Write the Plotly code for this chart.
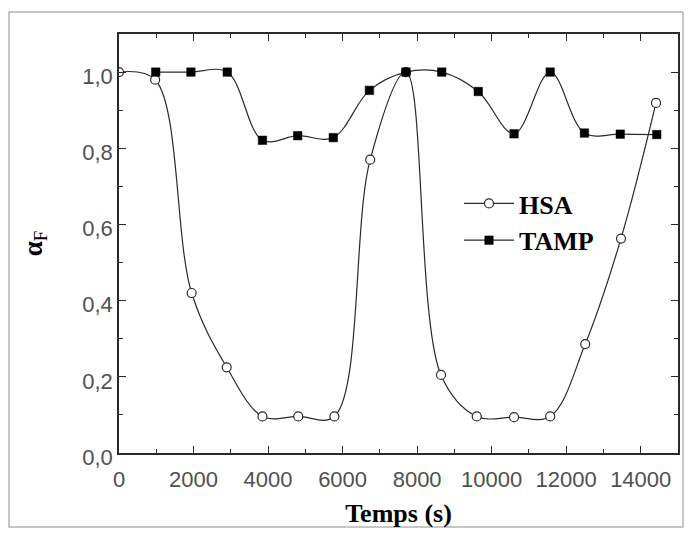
import plotly.graph_objects as go

# ---- data ----
hsa_t = [0, 970, 1950, 2890, 3850, 4810, 5780, 6740, 7700, 8640, 9600, 10600, 11570, 12510, 13470, 14410]
hsa_v = [1.0, 0.98, 0.42, 0.225, 0.096, 0.096, 0.096, 0.77, 1.0, 0.205, 0.096, 0.094, 0.096, 0.286, 0.563, 0.919]

tamp_t = [985, 1930, 2905, 3850, 4795, 5750, 6720, 7700, 8660, 9640, 10600, 11570, 12490, 13450, 14430]
tamp_v = [1.0, 1.0, 1.0, 0.821, 0.833, 0.828, 0.952, 1.0, 1.0, 0.949, 0.838, 1.0, 0.840, 0.837, 0.836]

x_tickvals = [0, 2000, 4000, 6000, 8000, 10000, 12000, 14000]
x_ticktext = ["0", "2000", "4000", "6000", "8000", "10000", "12000", "14000"]
y_tickvals = [0.0, 0.2, 0.4, 0.6, 0.8, 1.0]
y_ticktext = ["0,0", "0,2", "0,4", "0,6", "0,8", "1,0"]

# page body has an 8px margin: figure is sized/offset to compensate
OFF = 8
W, H = 693 - 2 * OFF, 536 - 2 * OFF
L, T = 119 - OFF, 34 - OFF
R = W - (678 - OFF)
B = H - (453 - OFF)
pw, ph = W - L - R, H - T - B

def px_x(p):
    return (p - OFF - L) / pw

def px_y(p):
    return (H - B - (p - OFF)) / ph

line_col = "#2a2a2a"

fig = go.Figure()
fig.add_trace(go.Scatter(
    x=hsa_t, y=hsa_v, name="HSA", mode="lines+markers",
    line=dict(color=line_col, width=1.2, shape="spline", smoothing=1.0),
    marker=dict(symbol="circle", size=9, color="white",
                line=dict(color=line_col, width=1.2)),
))
fig.add_trace(go.Scatter(
    x=tamp_t, y=tamp_v, name="TAMP", mode="lines+markers",
    line=dict(color=line_col, width=1.2, shape="spline", smoothing=1.0),
    marker=dict(symbol="square", size=8.5, color="black",
                line=dict(color="black", width=0.5)),
))

tick_font = dict(family="Liberation Sans, Arial, sans-serif", size=22, color="#505050")
title_font = dict(family="Liberation Serif, Times New Roman, serif", size=26, color="black")

fig.update_layout(
    width=W, height=H,
    margin=dict(l=L, r=R, t=T, b=B, autoexpand=False),
    paper_bgcolor="white", plot_bgcolor="white",
    showlegend=True,
    legend=dict(
        x=px_x(459), y=px_y(180), xanchor="left", yanchor="top",
        bgcolor="rgba(0,0,0,0)", borderwidth=0,
        font=dict(family="Liberation Serif, Times New Roman, serif", size=26,
                  color="black", weight="bold"),
        itemwidth=50, tracegroupgap=0,
    ),
    xaxis=dict(
        range=[0, 15000], tickvals=x_tickvals, ticktext=x_ticktext,
        ticks="inside", ticklen=7, tickwidth=1.3, tickcolor=line_col,
        minor=dict(dtick=1000, tick0=0, ticks="inside", ticklen=4, tickcolor=line_col, tickwidth=1.2),
        showline=True, linecolor=line_col, linewidth=1.5, mirror="allticks",
        showgrid=False, zeroline=False,
        tickfont=tick_font, ticklabelstandoff=6,
        title=dict(text="<b>Temps (s)</b>", font=title_font, standoff=14),
    ),
    yaxis=dict(
        range=[0, 1.1], tickvals=y_tickvals, ticktext=y_ticktext,
        ticks="inside", ticklen=7, tickwidth=1.3, tickcolor=line_col,
        minor=dict(dtick=0.1, tick0=0, ticks="inside", ticklen=4, tickcolor=line_col, tickwidth=1.2),
        showline=True, linecolor=line_col, linewidth=1.5, mirror="allticks",
        showgrid=False, zeroline=False,
        tickfont=tick_font, ticklabelshift=4, ticklabelstandoff=0,
        title=dict(text="<b>α</b><sub>F</sub>",
                   font=dict(family="Liberation Serif, Times New Roman, serif", size=27, color="black"),
                   standoff=32),
    ),
    shapes=[dict(
        type="rect", xref="paper", yref="paper",
        x0=px_x(9), x1=px_x(683), y0=px_y(527), y1=px_y(12),
        line=dict(color="#b4b4b4", width=1.5), fillcolor="rgba(0,0,0,0)", layer="below",
    )],
)

fig.write_html("out.html")
